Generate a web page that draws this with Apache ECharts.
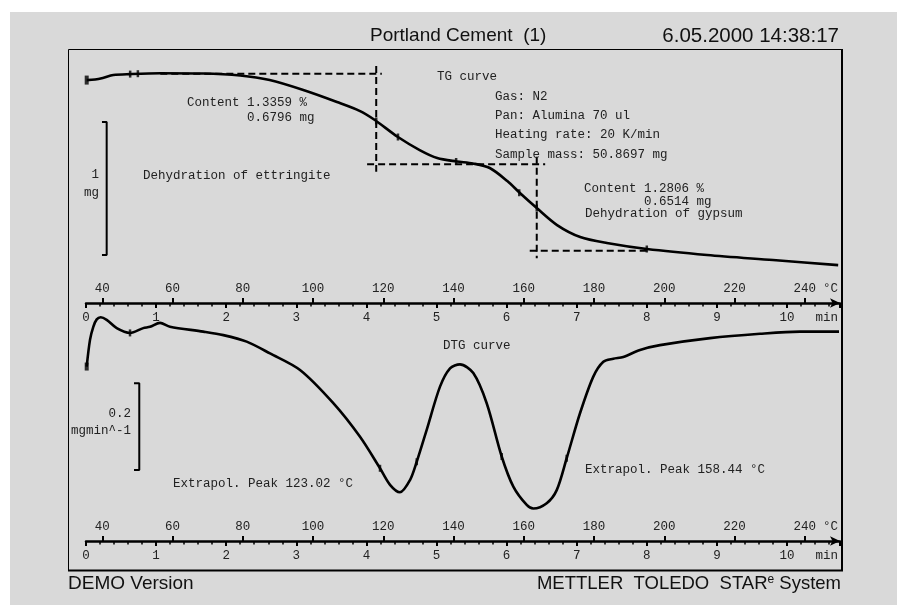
<!DOCTYPE html>
<html>
<head>
<meta charset="utf-8">
<script src="https://cdn.jsdelivr.net/npm/echarts@6/dist/echarts.min.js"></script>
<style>
html,body{margin:0;padding:0;background:#fff;}
#chart{width:897px;height:605px;}
</style>
</head>
<body>
<div id="chart"></div>
<script>
(function(){

    // time (min) and temperature (°C) ticks
    var timeTicks = [0,1,2,3,4,5,6,7,8,9,10];
    var tempTicks = [40,60,80,100,120,140,160,180,200,220,240];

    // TG curve: time in min, mass in mg
    var tgTime = [0.01,0.13,0.24,0.39,0.63,1.06,1.67,2.20,2.62,3.10,3.58,3.91,4.12,4.45,4.76,5.01,5.29,5.52,5.76,6.01,6.19,6.43,6.72,7.05,7.43,8.00,8.86,9.80,10.73];
    var tgMass = [50.819,50.823,50.835,50.857,50.864,50.870,50.868,50.853,50.819,50.744,50.654,50.586,50.519,50.391,50.293,50.233,50.207,50.192,50.158,50.060,49.970,49.857,49.729,49.639,49.594,49.549,49.504,49.466,49.428];

    // DTG curve: time in min, rate in mg/min
    var dtgTime = [0.01,0.057,0.104,0.153,0.21,0.295,0.438,0.628,0.817,0.913,1.056,1.198,1.673,1.959,2.292,2.625,3.053,3.528,3.909,4.194,4.337,4.479,4.622,4.718,4.860,5.050,5.193,5.335,5.525,5.716,5.930,6.096,6.287,6.381,6.572,6.715,6.857,7.047,7.237,7.380,7.522,7.665,7.903,8.188,8.902,9.615,10.185,10.742];
    var dtgRate = [-0.102,-0.041,-0.011,0.006,0.011,0.005,-0.014,-0.025,-0.014,-0.011,-0.002,-0.011,-0.022,-0.030,-0.045,-0.072,-0.110,-0.186,-0.263,-0.335,-0.373,-0.390,-0.362,-0.320,-0.247,-0.148,-0.106,-0.097,-0.117,-0.186,-0.308,-0.377,-0.419,-0.427,-0.415,-0.385,-0.312,-0.209,-0.125,-0.091,-0.084,-0.080,-0.064,-0.053,-0.037,-0.027,-0.022,-0.022];

    // step evaluation lines on TG (dashed)
    var step1Top  = [[1.06,50.866],[4.22,50.866]];
    var step1Vert = [[4.14,50.925],[4.14,50.130]];
    var stepMid   = [[4.01,50.186],[6.55,50.186]];
    var step2Vert = [[6.43,50.243],[6.43,49.479]];
    var step2Bot  = [[6.33,49.535],[8.02,49.535]];

    // scale bars (1 mg, 0.2 mg/min)
    var tgScaleBar  = [[0.228,50.503],[0.295,50.503],[0.295,49.503],[0.228,49.503]];
    var dtgScaleBar = [[0.685,-0.140],[0.760,-0.140],[0.760,-0.339],[0.685,-0.339]];

    // evaluation marks on curves
    var tgMarks  = [[0.63,50.864],[0.74,50.867],[4.14,50.512],[4.45,50.391],[5.28,50.207],[6.18,49.972],[6.43,49.857],[8.00,49.549]];
    var dtgMarks = [[0.628,-0.025],[4.194,-0.335],[4.718,-0.320],[5.930,-0.308],[6.857,-0.312]];
    var tgStart  = [[0.01,50.819]];
    var dtgStart = [[0.01,-0.102]];

    var MONO = "'Courier New','Liberation Mono',monospace";
    var SANS = "'Liberation Sans',Arial,sans-serif";

    function zip(a, b){
        var out = [];
        for (var i = 0; i < a.length; i++) out.push([a[i], b[i]]);
        return out;
    }

    function txt(x, y, s, align){
        return {
            type: 'text',
            z: 50,
            style: {
                text: s, x: x, y: y,
                font: '12.5px ' + MONO,
                fill: '#222',
                textAlign: align || 'left',
                textVerticalAlign: 'middle'
            }
        };
    }

    function timeAxis(grid){
        return {
            type: 'value', gridIndex: grid, position: 'bottom',
            min: 0, max: 10.756, interval: 1,
            axisLine: {show: true, onZero: false, symbol: ['none','arrow'], symbolSize: [7,10],
                lineStyle: {color: '#000', width: 2.5}},
            axisTick: {show: true, length: 5, lineStyle: {color: '#000', width: 2}},
            minorTick: {show: true, splitNumber: 5, length: 3.5, lineStyle: {color: '#000', width: 1.5}},
            axisLabel: {customValues: timeTicks, margin: 8, color: '#222', fontFamily: MONO, fontSize: 12.5},
            splitLine: {show: false},
            name: 'min', nameLocation: 'end', nameGap: -2,
            nameTextStyle: {align: 'right', verticalAlign: 'top', padding: [8,0,0,0],
                color: '#222', fontFamily: MONO, fontSize: 12.5}
        };
    }

    function tempAxis(grid){
        return {
            type: 'value', gridIndex: grid, position: 'bottom',
            min: 35.36, max: 250,
            axisLine: {show: false, onZero: false},
            axisTick: {show: true, inside: true, customValues: tempTicks, length: 5,
                lineStyle: {color: '#000', width: 2}},
            axisLabel: {show: true, inside: true, customValues: tempTicks, margin: 8,
                color: '#222', fontFamily: MONO, fontSize: 12.5},
            splitLine: {show: false},
            name: '°C', nameLocation: 'end', nameGap: -2,
            nameTextStyle: {align: 'right', verticalAlign: 'bottom', padding: [0,0,8,0],
                color: '#222', fontFamily: MONO, fontSize: 12.5}
        };
    }

    function lineSeries(data, xi, yi, width, dashed){
        return {
            type: 'line', xAxisIndex: xi, yAxisIndex: yi, data: data,
            showSymbol: false, symbol: 'none', silent: true,
            lineStyle: {color: '#000', width: width, type: dashed ? [7,4] : 'solid'},
            z: 3
        };
    }

    function markSeries(data, xi, yi, size){
        return {
            type: 'scatter', xAxisIndex: xi, yAxisIndex: yi, data: data,
            symbol: 'rect', symbolSize: size, silent: true,
            itemStyle: {color: '#000'}, z: 4
        };
    }

    var tgLine = lineSeries(zip(tgTime, tgMass), 0, 0, 2.6, false);
    tgLine.smooth = 0.3;
    var dtgLine = lineSeries(zip(dtgTime, dtgRate), 2, 1, 2.6, false);
    dtgLine.smooth = 0.3;

    var option = {
        animation: false,
        backgroundColor: '#d9d9d9',
        grid: [
            {left: 86, right: 57, top: 60, bottom: 302},
            {left: 86, right: 57, top: 300, bottom: 64}
        ],
        xAxis: [timeAxis(0), tempAxis(0), timeAxis(1), tempAxis(1)],
        yAxis: [
            {type: 'value', gridIndex: 0, min: 49.143, max: 50.970, show: false},
            {type: 'value', gridIndex: 1, min: -0.5015, max: 0.0504, show: false}
        ],
        series: [
            tgLine,
            lineSeries(step1Top, 0, 0, 2, true),
            lineSeries(step1Vert, 0, 0, 2, true),
            lineSeries(stepMid, 0, 0, 2, true),
            lineSeries(step2Vert, 0, 0, 2, true),
            lineSeries(step2Bot, 0, 0, 2, true),
            lineSeries(tgScaleBar, 0, 0, 2, false),
            markSeries(tgMarks, 0, 0, [2.5,7]),
            markSeries(tgStart, 0, 0, [4,9]),
            dtgLine,
            lineSeries(dtgScaleBar, 2, 1, 2, false),
            markSeries(dtgMarks, 2, 1, [2.5,7]),
            markSeries(dtgStart, 2, 1, [4,8])
        ],
        graphic: [
            {type: 'rect', z: 0, shape: {x: 0, y: 0, width: 897, height: 12}, style: {fill: '#fff'}},
            {type: 'rect', z: 0, shape: {x: 0, y: 0, width: 10, height: 605}, style: {fill: '#fff'}},
            {type: 'rect', z: 1, shape: {x: 68.5, y: 49.5, width: 773, height: 521}, style: {fill: 'none', stroke: '#000', lineWidth: 1}},
            {type: 'line', z: 1, shape: {x1: 842, y1: 49, x2: 842, y2: 571}, style: {stroke: '#000', lineWidth: 2}},
            {type: 'line', z: 1, shape: {x1: 68, y1: 570.5, x2: 843, y2: 570.5}, style: {stroke: '#000', lineWidth: 2}},

            {type: 'text', z: 50, style: {text: 'Portland Cement  (1)', x: 370, y: 36, font: '19px ' + SANS, fill: '#111', textAlign: 'left', textVerticalAlign: 'middle'}},
            {type: 'text', z: 50, style: {text: '6.05.2000 14:38:17', x: 839, y: 36, font: '20.5px ' + SANS, fill: '#111', textAlign: 'right', textVerticalAlign: 'middle'}},
            {type: 'text', z: 50, style: {text: 'DEMO Version', x: 68, y: 584, font: '19px ' + SANS, fill: '#111', textAlign: 'left', textVerticalAlign: 'middle'}},
            {type: 'text', z: 50, style: {
                text: '{a|METTLER  TOLEDO  STAR}{s|e}{a| System}', x: 841, y: 584,
                textAlign: 'right', textVerticalAlign: 'middle',
                rich: {
                    a: {font: '18.5px ' + SANS, fill: '#111'},
                    s: {font: '12px ' + SANS, fill: '#111', padding: [0,0,8,0]}
                }
            }},

            txt(437, 77, 'TG curve'),
            txt(495, 97, 'Gas: N2'),
            txt(495, 116, 'Pan: Alumina 70 ul'),
            txt(495, 135, 'Heating rate: 20 K/min'),
            txt(495, 155, 'Sample mass: 50.8697 mg'),
            txt(187, 103, 'Content 1.3359 %'),
            txt(187, 118, '        0.6796 mg'),
            txt(99, 175, '1', 'right'),
            txt(99, 193, 'mg', 'right'),
            txt(143, 176, 'Dehydration of ettringite'),
            txt(584, 189, 'Content 1.2806 %'),
            txt(584, 202, '        0.6514 mg'),
            txt(585, 214, 'Dehydration of gypsum'),

            txt(443, 346, 'DTG curve'),
            txt(131, 414, '0.2', 'right'),
            txt(131, 431, 'mgmin^-1', 'right'),
            txt(173, 484, 'Extrapol. Peak 123.02 °C'),
            txt(585, 470, 'Extrapol. Peak 158.44 °C')
        ]
    };

    var chart = echarts.init(document.getElementById('chart'));
    chart.setOption(option);
    window.onresize = chart.resize;

})();
</script>
</body>
</html>
